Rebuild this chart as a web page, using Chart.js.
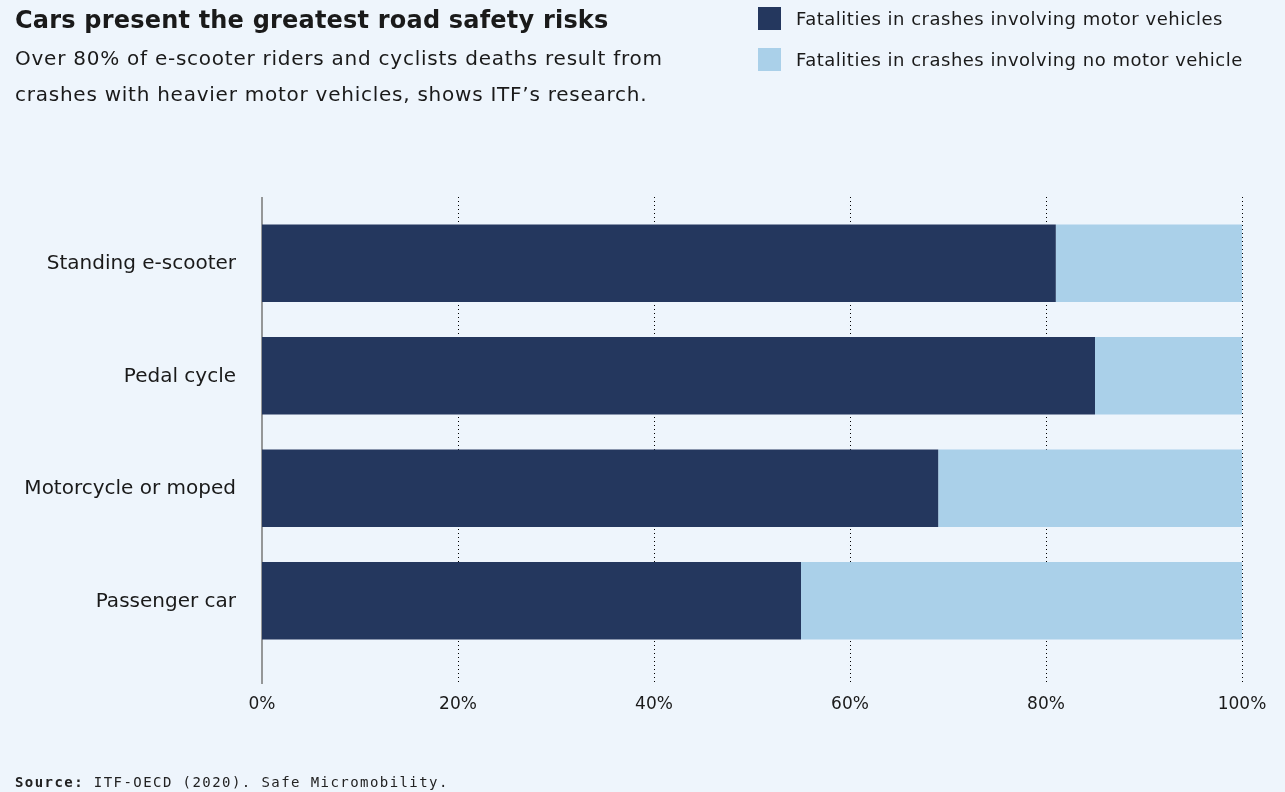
<!DOCTYPE html>
<html>
<head>
<meta charset="utf-8">
<script src="https://cdn.jsdelivr.net/npm/chart.js@4.4.1/dist/chart.umd.min.js"></script>
<style>
  html, body { margin:0; padding:0; background:#EEF5FC; }
  body { width:1285px; height:792px; position:relative; overflow:hidden; font-family:"DejaVu Sans", sans-serif; color:#1a1a1a; }
  #wrap { position:absolute; left:0; top:0; width:1285px; height:792px; }
  #title { position:absolute; left:15px; top:6px; font-size:24px; font-weight:700; letter-spacing:0.2px; white-space:nowrap; }
  #sub { position:absolute; left:15px; top:40px; font-size:20px; line-height:36px; letter-spacing:0.75px; white-space:nowrap; }
  #legend { position:absolute; left:758px; top:7px; font-size:18px; letter-spacing:0.5px; }
  .li { display:flex; align-items:center; height:23px; margin-bottom:18px; white-space:nowrap; }
  .sw { width:23px; height:23px; margin-right:15px; flex:none; }
  #source { position:absolute; left:15px; top:774px; font-family:"DejaVu Sans Mono", monospace; font-size:14px; white-space:nowrap; letter-spacing:1.43px; color:#222; }
</style>
</head>
<body>
<div id="wrap"><canvas id="c" width="1285" height="792"></canvas></div>
<div id="title">Cars present the greatest road safety risks</div>
<div id="sub">Over 80% of e-scooter riders and cyclists deaths result from<br>crashes with heavier motor vehicles, shows ITF’s research.</div>
<div id="legend"></div>
<div id="source"><b>Source:</b> ITF-OECD (2020). Safe Micromobility.</div>
<script>
const categories = ["Standing e-scooter", "Pedal cycle", "Motorcycle or moped", "Passenger car"];
const motorVehicle = [81, 85, 69, 55];
const noMotorVehicle = [19, 15, 31, 45];
const seriesLabels = ["Fatalities in crashes involving motor vehicles", "Fatalities in crashes involving no motor vehicle"];
const tickValues = [0, 20, 40, 60, 80, 100];
const colors = ["#24375E", "#AAD0E9"];

const gridPlugin = {
  id: 'extGrid',
  beforeDatasetsDraw(chart) {
    const ctx = chart.ctx, x = chart.scales.x, a = chart.chartArea;
    const top = a.top - 10, bottom = a.bottom + 27;
    ctx.save();
    ctx.strokeStyle = '#000';
    ctx.lineWidth = 1;
    ctx.setLineDash([1, 3]);
    tickValues.forEach(v => {
      if (v === 0) return;
      const px = Math.round(x.getPixelForValue(v)) + 0.5;
      ctx.beginPath(); ctx.moveTo(px, top); ctx.lineTo(px, bottom); ctx.stroke();
    });
    ctx.setLineDash([]);
    ctx.strokeStyle = '#777';
    ctx.lineWidth = 1.5;
    const p0 = x.getPixelForValue(0);
    ctx.beginPath(); ctx.moveTo(p0, top); ctx.lineTo(p0, bottom); ctx.stroke();
    ctx.restore();
  }
};

const chart = new Chart(document.getElementById('c'), {
  type: 'bar',
  data: {
    labels: categories,
    datasets: [
      { label: seriesLabels[0], data: motorVehicle, backgroundColor: colors[0] },
      { label: seriesLabels[1], data: noMotorVehicle, backgroundColor: colors[1] }
    ]
  },
  options: {
    responsive: false,
    animation: false,
    indexAxis: 'y',
    layout: { padding: { top: 207, right: 43, bottom: 0, left: 0 } },
    datasets: { bar: { categoryPercentage: 1, barPercentage: 0.69, borderWidth: 0 } },
    plugins: { legend: { display: false }, tooltip: { enabled: false } },
    scales: {
      x: {
        stacked: true, min: 0, max: 100,
        afterBuildTicks: s => { s.ticks = tickValues.map(v => ({ value: v })); },
        afterFit: s => { s.height = 135; s.paddingLeft = 0; s.paddingRight = 0; },
        grid: { display: false, drawTicks: false },
        border: { display: false },
        ticks: { padding: 37, color: '#1a1a1a', font: { family: 'DejaVu Sans', size: 17 }, callback: v => v + '%' }
      },
      y: {
        stacked: true,
        afterFit: s => { s.width = 262; s.paddingTop = 0; s.paddingBottom = 0; },
        grid: { display: false, drawTicks: false },
        border: { display: false },
        ticks: { padding: 26, labelOffset: 1, color: '#1a1a1a', font: { family: 'DejaVu Sans', size: 20 } }
      }
    }
  },
  plugins: [gridPlugin]
});

const lg = document.getElementById('legend');
chart.data.datasets.forEach(d => {
  const row = document.createElement('div'); row.className = 'li';
  const sw = document.createElement('span'); sw.className = 'sw'; sw.style.background = d.backgroundColor;
  const t = document.createElement('span'); t.textContent = d.label;
  row.appendChild(sw); row.appendChild(t); lg.appendChild(row);
});
</script>
</body>
</html>
